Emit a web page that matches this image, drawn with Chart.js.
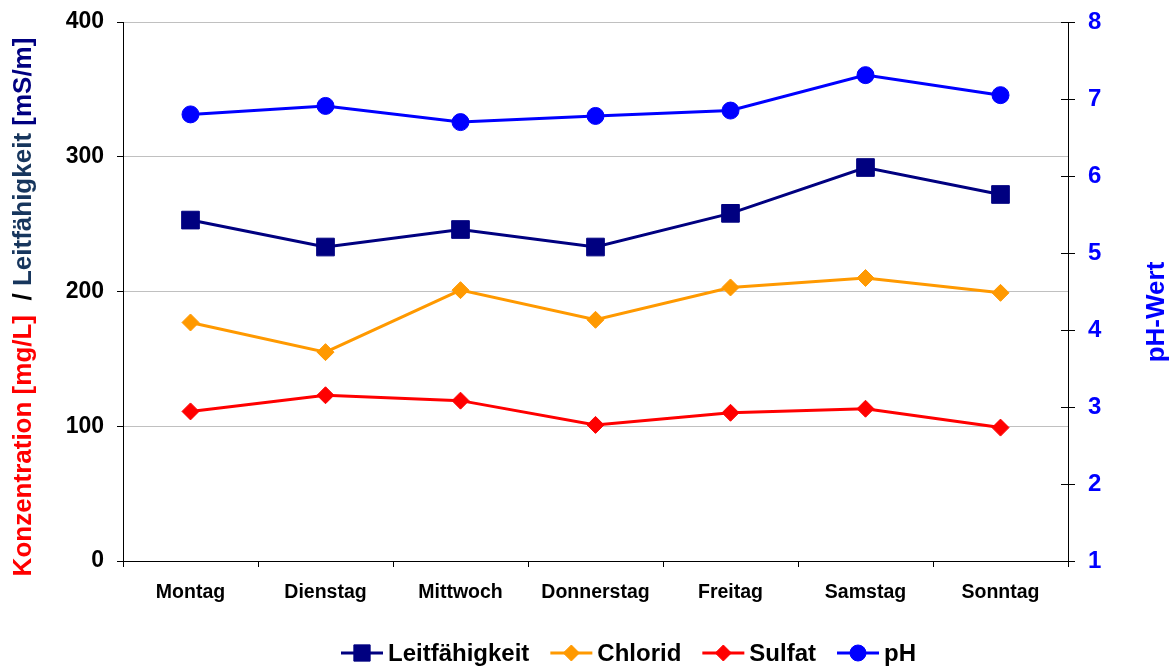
<!DOCTYPE html>
<html>
<head>
<meta charset="utf-8">
<script src="https://cdn.jsdelivr.net/npm/chart.js@4/dist/chart.umd.min.js"></script>
<style>
  html, body { margin: 0; padding: 0; background: #ffffff; }
  canvas { display: block; }
</style>
</head>
<body>
<canvas id="chart" width="1173" height="666"></canvas>
<script>
// Wochentage der Messreihe
const days = ['Montag', 'Dienstag', 'Mittwoch', 'Donnerstag', 'Freitag', 'Samstag', 'Sonntag'];

// Messwerte je Tag
const leitfaehigkeit = [253, 233, 246, 233, 258, 292, 272]; // mS/m
const chlorid        = [177, 155, 201, 179, 203, 210, 199]; // mg/L
const sulfat         = [111, 123, 119, 101, 110, 113, 99];  // mg/L
const ph             = [6.80, 6.91, 6.70, 6.78, 6.85, 7.31, 7.05];

// Achsenbereiche und Tick-Abstände
const leftTicks  = { min: 0, max: 400, step: 100 };
const rightTicks = { min: 1, max: 8, step: 1 };

// Achsentitel (mehrfarbig links)
const leftTitleParts = [
  { text: 'Konzentration [mg/L]', color: '#FF0000' },
  { text: '  / ', color: '#000000' },
  { text: 'Leitfähigkeit ', color: '#17365D' },
  { text: '[mS/m]', color: '#000080' }
];
const rightTitle = 'pH-Wert';

const FONT = '"Liberation Sans", Arial, Helvetica, sans-serif';

const series = [
  { label: 'Leitfähigkeit', data: leitfaehigkeit, color: '#000080', style: 'rect',    radius: 12.5, axis: 'y'  },
  { label: 'Chlorid',       data: chlorid,        color: '#FF9900', style: 'rectRot', radius: 8.5,  axis: 'y'  },
  { label: 'Sulfat',        data: sulfat,         color: '#FF0000', style: 'rectRot', radius: 8.5,  axis: 'y'  },
  { label: 'pH',            data: ph,             color: '#0000FF', style: 'circle',  radius: 8.5,  axis: 'y1' }
];

// Rotierte Achsentitel links und rechts
const axisTitlesPlugin = {
  id: 'axisTitles',
  afterDraw(chart) {
    const ctx = chart.ctx;
    ctx.save();
    ctx.font = 'bold 26px ' + FONT;
    ctx.textBaseline = 'middle';
    ctx.textAlign = 'left';
    const total = leftTitleParts.reduce((w, p) => w + ctx.measureText(p.text).width, 0);
    ctx.translate(24, 307);
    ctx.rotate(-Math.PI / 2);
    let x = -total / 2;
    leftTitleParts.forEach(p => {
      ctx.fillStyle = p.color;
      ctx.fillText(p.text, x, 0);
      x += ctx.measureText(p.text).width;
    });
    ctx.restore();

    ctx.save();
    ctx.font = 'bold 26px ' + FONT;
    ctx.textBaseline = 'middle';
    ctx.textAlign = 'center';
    ctx.fillStyle = '#0000FF';
    ctx.translate(1157, 312);
    ctx.rotate(-Math.PI / 2);
    ctx.fillText(rightTitle, 0, 0);
    ctx.restore();
  }
};

// Kreuzende Tickstriche an der rechten Achse (innerer Teil)
const innerTicksPlugin = {
  id: 'innerTicks',
  afterDraw(chart) {
    const scale = chart.scales.y1;
    const ctx = chart.ctx;
    ctx.save();
    ctx.strokeStyle = '#000000';
    ctx.lineWidth = 1;
    scale.ticks.forEach(t => {
      const y = Math.round(scale.getPixelForValue(t.value)) + 0.5;
      ctx.beginPath();
      ctx.moveTo(scale.left - 7, y);
      ctx.lineTo(scale.left, y);
      ctx.stroke();
    });
    ctx.restore();
  }
};

// Legende: Linie mit Marker, darunter zentriert
const legendRowPlugin = {
  id: 'legendRow',
  afterDraw(chart) {
    const ctx = chart.ctx;
    const lineLen = 42, gapText = 5, gapItem = 21, cy = 653;
    ctx.save();
    ctx.font = 'bold 24px ' + FONT;
    ctx.textBaseline = 'middle';
    ctx.textAlign = 'left';
    let x = 341;
    chart.data.datasets.forEach((ds, i) => {
      const s = series[i];
      ctx.strokeStyle = s.color;
      ctx.fillStyle = s.color;
      ctx.lineWidth = 3;
      ctx.beginPath();
      ctx.moveTo(x, cy);
      ctx.lineTo(x + lineLen, cy);
      ctx.stroke();
      ctx.lineWidth = 1;
      Chart.helpers.drawPoint(ctx, {
        pointStyle: s.style,
        radius: s.style === 'rect' ? 11.5 : 8,
        rotation: 0,
        borderWidth: 1
      }, x + lineLen / 2, cy);
      x += lineLen + gapText;
      ctx.fillStyle = '#000000';
      ctx.fillText(ds.label, x, cy + 1);
      x += ctx.measureText(ds.label).width + gapItem;
    });
    ctx.restore();
  }
};

// Keine zusätzliche Randreserve für die äußeren Tick-Beschriftungen
function noEdgePadding(s) {
  s.paddingTop = 0;
  s.paddingBottom = 0;
}

new Chart(document.getElementById('chart'), {
  type: 'line',
  data: {
    labels: days,
    datasets: series.map(s => ({
      label: s.label,
      data: s.data,
      yAxisID: s.axis,
      borderColor: s.color,
      backgroundColor: s.color,
      borderWidth: 3,
      pointStyle: s.style,
      pointRadius: s.radius,
      pointHoverRadius: s.radius,
      pointBorderWidth: 1,
      pointBorderColor: s.color,
      pointBackgroundColor: s.color,
      tension: 0,
      fill: false
    }))
  },
  options: {
    responsive: false,
    animation: false,
    events: [],
    layout: { padding: { top: 22, left: 0, right: 0, bottom: 0 } },
    plugins: { legend: { display: false }, tooltip: { enabled: false } },
    scales: {
      x: {
        offset: true,
        grid: { offset: true, drawOnChartArea: false, color: '#000000', tickLength: 6 },
        border: { color: '#000000', width: 1 },
        ticks: { color: '#000000', font: { family: FONT, size: 19.5, weight: 'bold' }, padding: 14, maxRotation: 0, autoSkip: false },
        afterFit(s) { s.height = 105; }
      },
      y: {
        position: 'left',
        min: leftTicks.min,
        max: leftTicks.max,
        ticks: { stepSize: leftTicks.step, color: '#000000', font: { family: FONT, size: 23, weight: 'bold' }, padding: 13 },
        grid: {
          color: c => (c.tick && c.tick.value === 0) ? 'rgba(0,0,0,0)' : '#C0C0C0',
          tickColor: '#000000',
          tickLength: 6
        },
        border: { color: '#000000', width: 1 },
        afterFit(s) { s.width = 123; noEdgePadding(s); }
      },
      y1: {
        position: 'right',
        min: rightTicks.min,
        max: rightTicks.max,
        ticks: { stepSize: rightTicks.step, color: '#0000FF', font: { family: FONT, size: 24, weight: 'bold' }, padding: 13 },
        grid: { drawOnChartArea: false, color: '#000000', tickLength: 7 },
        border: { color: '#000000', width: 1 },
        afterFit(s) { s.width = 105; noEdgePadding(s); }
      }
    }
  },
  plugins: [axisTitlesPlugin, innerTicksPlugin, legendRowPlugin]
});
</script>
</body>
</html>
